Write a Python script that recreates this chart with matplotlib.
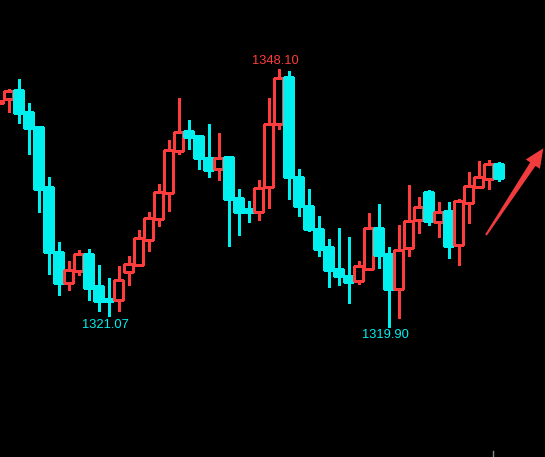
import numpy as np
import matplotlib.pyplot as plt
from matplotlib.patches import Rectangle, Polygon

# candle data (index -1 is the partly cut candle at the left edge)
idx = list(range(-1, 50))
opens = [1344.43, 1344.78, 1345.80, 1343.39, 1341.75, 1335.19, 1328.07, 1324.72, 1326.03, 1327.86,
         1324.35, 1322.96, 1322.85, 1325.92, 1326.68, 1329.42, 1331.72, 1334.56, 1339.16, 1341.32,
         1340.77, 1338.36, 1337.19, 1338.47, 1333.98, 1332.78, 1332.48, 1335.24, 1342.05, 1347.22,
         1336.28, 1333.11, 1330.59, 1328.62, 1326.21, 1325.48, 1324.93, 1326.25, 1330.70, 1327.86,
         1324.06, 1328.54, 1331.61, 1334.64, 1331.39, 1332.56, 1328.87, 1333.47, 1335.22, 1336.10,
         1337.70]
closes = [1344.60, 1345.69, 1343.32, 1341.68, 1335.00, 1328.11, 1324.72, 1326.07, 1327.82, 1324.17,
          1322.74, 1322.74, 1325.01, 1326.76, 1329.61, 1331.80, 1334.64, 1339.24, 1341.21, 1340.69,
          1338.39, 1337.08, 1338.36, 1333.91, 1332.48, 1332.48, 1335.08, 1342.08, 1347.12, 1336.31,
          1333.14, 1330.62, 1328.44, 1326.14, 1325.48, 1324.82, 1326.54, 1330.67, 1327.78, 1324.06,
          1328.29, 1331.47, 1333.00, 1331.50, 1332.45, 1328.76, 1333.66, 1335.30, 1336.28, 1337.70,
          1336.21]
highs = [1344.65, 1345.91, 1347.01, 1344.38, 1341.86, 1336.28, 1329.17, 1327.09, 1328.29, 1328.40,
         1326.65, 1325.23, 1326.54, 1327.64, 1330.48, 1332.45, 1335.52, 1340.33, 1344.93, 1342.52,
         1340.77, 1342.08, 1341.10, 1338.58, 1334.97, 1333.66, 1335.95, 1344.93, 1348.10, 1347.88,
         1337.16, 1334.97, 1332.01, 1329.50, 1330.70, 1329.72, 1327.09, 1332.34, 1333.33, 1328.62,
         1331.03, 1335.41, 1334.09, 1334.86, 1333.55, 1333.55, 1333.87, 1336.83, 1338.03, 1338.14,
         1337.92]
lows = [1344.38, 1343.43, 1342.22, 1338.83, 1332.48, 1325.70, 1323.40, 1323.95, 1325.59, 1322.85,
        1321.65, 1321.07, 1321.65, 1324.50, 1326.60, 1328.22, 1330.95, 1332.59, 1338.83, 1339.38,
        1337.19, 1336.31, 1335.99, 1328.76, 1329.97, 1331.39, 1331.61, 1332.92, 1341.57, 1333.91,
        1332.05, 1330.41, 1327.67, 1324.28, 1324.50, 1322.53, 1324.61, 1326.14, 1326.36, 1319.90,
        1320.89, 1327.67, 1330.19, 1331.06, 1329.75, 1327.45, 1326.68, 1331.28, 1335.11, 1335.00,
        1335.88]

up_col = '#ff3c3c'
down_col = '#00f0f0'

fig = plt.figure(figsize=(5.45, 4.57), dpi=100, facecolor='black')
ax = fig.add_axes([0, 0, 1, 1])
ax.set_facecolor('black')

w = 0.9
lw = 0.8
for x, o, c, h, l in zip(idx, opens, closes, highs, lows):
    top, bot = max(o, c), min(o, c)
    if c > o:
        ax.vlines(x, top, h, color=up_col, lw=lw, antialiased=False)
        ax.vlines(x, l, bot, color=up_col, lw=lw, antialiased=False)
        ax.add_patch(Rectangle((x - w / 2, bot), w, top - bot, facecolor='black',
                               edgecolor=up_col, lw=lw, antialiased=False))
    else:
        ax.vlines(x, l, h, color=down_col, lw=lw, antialiased=False)
        ax.add_patch(Rectangle((x - w / 2, bot), w, max(top - bot, 0.2), facecolor=down_col,
                               edgecolor=down_col, lw=lw, antialiased=False))

font = dict(family='Liberation Sans', fontsize=9.3, ha='center', va='center')
ax.annotate('1348.10', xy=(27, 1348.10), xytext=(-2.5, 5.5), textcoords='offset points',
            color=up_col, **font)
ax.annotate('1321.07', xy=(10, 1321.07), xytext=(-2.5, -6.5), textcoords='offset points',
            color=down_col, **font)
ax.annotate('1319.90', xy=(38, 1319.90), xytext=(-2.5, -6), textcoords='offset points',
            color=down_col, **font)

# red trend arrow (pixel coordinates, y down)
W, H = 545, 457
tail = np.array([486.0, 235.0])
tip = np.array([543.3, 148.3])
u = (tip - tail) / np.linalg.norm(tip - tail)
n = np.array([-u[1], u[0]])
base = tip - 19 * u
pts = [tail + 1.0 * n, base + 3.2 * n, base + 8.5 * n, tip, base - 8.5 * n, base - 3.2 * n, tail - 1.0 * n]
pts = [(p[0] / W, 1 - p[1] / H) for p in pts]
fig.patches.append(Polygon(pts, closed=True, facecolor='#f03c3c', edgecolor='none',
                           transform=fig.transFigure))

# small grey marker at the bottom
ax.axvline(48.45, ymin=0, ymax=6 / 457, color='#888888', lw=1)

ax.set_xlim(-0.85, 53.65)
ax.set_ylim(1305.64, 1355.65)
ax.axis('off')

fig.savefig('out.png', dpi=100, facecolor='black')
